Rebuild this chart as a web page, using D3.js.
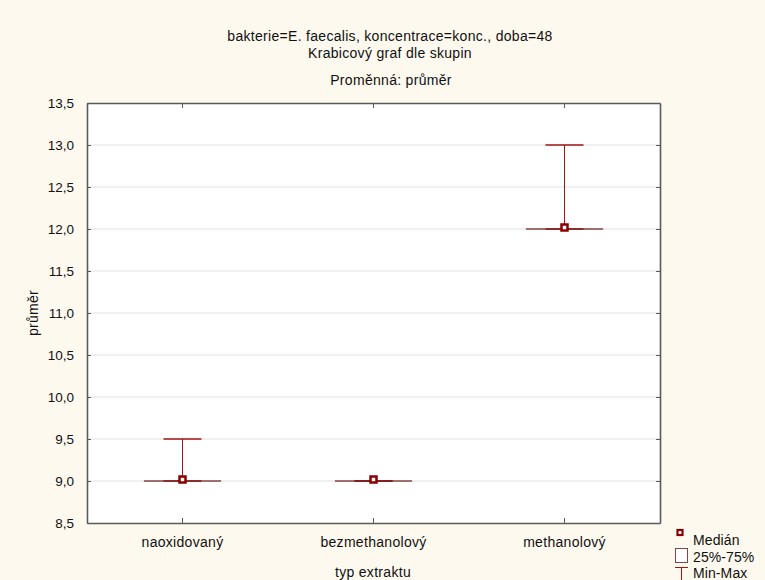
<!DOCTYPE html>
<html>
<head>
<meta charset="utf-8">
<script src="https://cdn.jsdelivr.net/npm/d3@7"></script>
<style>
  body { margin: 0; background: #fdf9ef; }
  svg { display: block; font-family: "Liberation Sans", Arial, sans-serif; }
</style>
</head>
<body>
<svg id="chart" width="765" height="580"></svg>
<script>
// values
const categories = ["naoxidovaný", "bezmethanolový", "methanolový"];
const medians = [9.0, 9.0, 12.0];
const q1 = [9.0, 9.0, 12.0];
const q3 = [9.0, 9.0, 12.0];
const mins = [9.0, 9.0, 12.0];
const maxs = [9.5, 9.0, 13.0];
const yTicks = [8.5, 9.0, 9.5, 10.0, 10.5, 11.0, 11.5, 12.0, 12.5, 13.0, 13.5];
const titleLines = ["bakterie=E. faecalis, koncentrace=konc., doba=48", "Krabicový graf dle skupin"];
const subTitle = "Proměnná: průměr";
const legendItems = ["Medián", "25%-75%", "Min-Max"];

const svg = d3.select("#chart");
const plotL = 87, plotR = 660, plotT = 103, plotB = 523;

const boxColor = "#6e1c1c";
const whiskColor = "#a31515";
const medColor = "#8b0000";
const txtSize = "14px", txtSpacing = "0.3px";

svg.append("rect").attr("width", 765).attr("height", 580).attr("fill", "#fdf9ef");
svg.append("rect").attr("x", plotL).attr("y", plotT)
    .attr("width", plotR - plotL).attr("height", plotB - plotT).attr("fill", "#fff");

const x = d3.scaleBand().domain(categories).range([plotL, plotR]);
const y = d3.scaleLinear().domain([8.5, 13.5]).range([plotB, plotT]);
const fmt = v => d3.format(".1f")(v).replace(".", ",");

// gridlines
svg.append("g").selectAll("line").data(yTicks.slice(1, -1)).join("line")
    .attr("x1", plotL).attr("x2", plotR)
    .attr("y1", d => y(d)).attr("y2", d => y(d))
    .attr("stroke", "#e2e2e2").attr("stroke-width", 1.2);

// axes (ticks inside)
const axL = svg.append("g").attr("transform", `translate(${plotL},0)`)
    .call(d3.axisLeft(y).tickValues(yTicks).tickFormat(fmt).tickSizeInner(-4).tickSizeOuter(0).tickPadding(13));
const axR = svg.append("g").attr("transform", `translate(${plotR},0)`)
    .call(d3.axisRight(y).tickValues(yTicks).tickFormat("").tickSizeInner(-4).tickSizeOuter(0));
const axB = svg.append("g").attr("transform", `translate(0,${plotB})`)
    .call(d3.axisBottom(x).tickSizeInner(-5).tickSizeOuter(0).tickPadding(14));
const axT = svg.append("g").attr("transform", `translate(0,${plotT})`)
    .call(d3.axisTop(x).tickFormat("").tickSizeInner(-5).tickSizeOuter(0));

[axL, axR, axB, axT].forEach(a => {
    a.select(".domain").attr("stroke", "#5a5a5a").attr("stroke-width", 1.6);
    a.selectAll(".tick line").attr("stroke", "#5a5a5a");
    a.selectAll("text").attr("fill", "#111").style("font-size", "13.5px")
        .style("font-family", "'Liberation Sans', Arial, sans-serif");
});
axB.selectAll("text").style("font-size", txtSize).style("letter-spacing", txtSpacing);

// box plots
const data = categories.map((c, i) => ({ c, med: medians[i], q1: q1[i], q3: q3[i], min: mins[i], max: maxs[i] }));
const cx = d => x(d.c) + x.bandwidth() / 2;
const boxW = 76, capW = 38;
const g = svg.append("g");

g.selectAll(".whisk").data(data).join("line")
    .attr("x1", cx).attr("x2", cx)
    .attr("y1", d => y(d.min)).attr("y2", d => y(d.max))
    .attr("stroke", whiskColor).attr("stroke-width", 1);
g.selectAll(".capTop").data(data).join("line")
    .attr("x1", d => cx(d) - capW / 2).attr("x2", d => cx(d) + capW / 2)
    .attr("y1", d => y(d.max)).attr("y2", d => y(d.max))
    .attr("stroke", whiskColor).attr("stroke-width", 1.3);
g.selectAll(".capBot").data(data).join("line")
    .attr("x1", d => cx(d) - capW / 2).attr("x2", d => cx(d) + capW / 2)
    .attr("y1", d => y(d.min)).attr("y2", d => y(d.min))
    .attr("stroke", whiskColor).attr("stroke-width", 1.3);
g.selectAll(".box").data(data).join("rect")
    .attr("x", d => cx(d) - boxW / 2).attr("width", boxW)
    .attr("y", d => y(d.q3)).attr("height", d => Math.max(0.01, y(d.q1) - y(d.q3)))
    .attr("fill", "none").attr("stroke", boxColor).attr("stroke-width", 1.2);
g.selectAll(".med").data(data).join("rect")
    .attr("x", d => cx(d) - 3).attr("y", d => y(d.med) - 4.5)
    .attr("width", 6).attr("height", 6)
    .attr("fill", "#fff").attr("stroke", medColor).attr("stroke-width", 2.5);

// titles
const tg = svg.append("g").attr("text-anchor", "middle").attr("fill", "#111")
    .style("font-size", txtSize).style("letter-spacing", txtSpacing);
tg.selectAll(".tl").data(titleLines).join("text")
    .attr("x", 390).attr("y", (d, i) => 41 + i * 17).text(d => d);
tg.append("text").attr("x", 391).attr("y", 85).text(subTitle);

// axis titles
svg.append("text").attr("x", 373).attr("y", 577).attr("text-anchor", "middle")
    .style("font-size", txtSize).style("letter-spacing", txtSpacing).attr("fill", "#111").text("typ extraktu");
svg.append("text").attr("transform", "translate(38,313) rotate(-90)").attr("text-anchor", "middle")
    .style("font-size", txtSize).style("letter-spacing", txtSpacing).attr("fill", "#111").text("průměr");

// legend
const lg = svg.append("g").style("font-size", txtSize).style("letter-spacing", "0.1px").attr("fill", "#111");
lg.selectAll("text").data(legendItems).join("text")
    .attr("x", 693).attr("y", (d, i) => 545 + i * 16.5).text(d => d);
lg.append("rect").attr("x", 677.5).attr("y", 530).attr("width", 5).attr("height", 5)
    .attr("fill", "#fff").attr("stroke", medColor).attr("stroke-width", 2.2);
lg.append("rect").attr("x", 675.5).attr("y", 548.5).attr("width", 12).attr("height", 14)
    .attr("fill", "#fff").attr("stroke", "#7a4a4a").attr("stroke-width", 1);
lg.append("line").attr("x1", 675).attr("x2", 688).attr("y1", 567.5).attr("y2", 567.5)
    .attr("stroke", whiskColor);
lg.append("line").attr("x1", 681.5).attr("x2", 681.5).attr("y1", 567.5).attr("y2", 580)
    .attr("stroke", whiskColor);
</script>
</body>
</html>
